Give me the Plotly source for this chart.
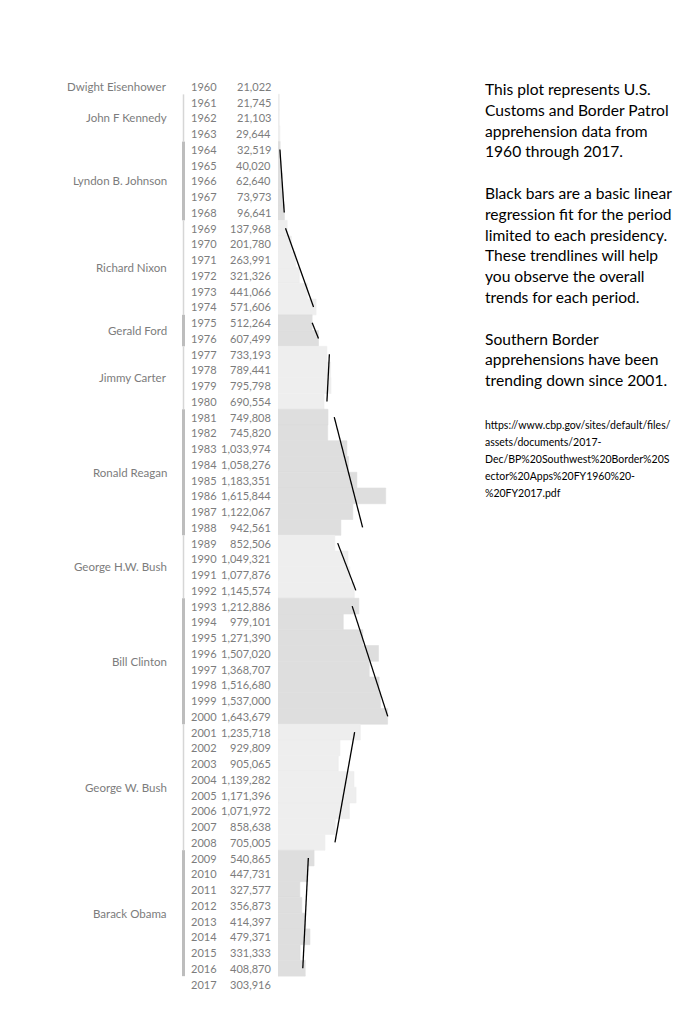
import numpy as np
import plotly.graph_objects as go

# apprehensions per fiscal year, 1960-2017
years = list(range(1960, 2018))
apprehensions = [
    21022, 21745, 21103, 29644, 32519, 40020, 62640, 73973, 96641, 137968,
    201780, 263991, 321326, 441066, 571606, 512264, 607499, 733193, 789441, 795798,
    690554, 749808, 745820, 1033974, 1058276, 1183351, 1615844, 1122067, 942561, 852506,
    1049321, 1077876, 1145574, 1212886, 979101, 1271390, 1507020, 1368707, 1516680, 1537000,
    1643679, 1235718, 929809, 905065, 1139282, 1171396, 1071972, 858638, 705005, 540865,
    447731, 327577, 356873, 414397, 479371, 331333, 408870, 303916,
]

presidents = ["Dwight Eisenhower", "John F Kennedy", "Lyndon B. Johnson", "Richard Nixon",
              "Gerald Ford", "Jimmy Carter", "Ronald Reagan", "George H.W. Bush",
              "Bill Clinton", "George W. Bush", "Barack Obama"]
term_start = [1960, 1961, 1964, 1969, 1975, 1977, 1981, 1989, 1993, 2001, 2009]
term_end = [1960, 1963, 1968, 1974, 1976, 1980, 1988, 1992, 2000, 2008, 2016]
has_bars = [False, True, True, True, True, True, True, True, True, True, True]
has_trend = [False, False, True, True, True, True, True, True, True, True, True]

notes = [
    "This plot represents U.S.",
    "Customs and Border Patrol",
    "apprehension data from",
    "1960 through 2017.",
    "",
    "Black bars are a basic linear",
    "regression fit for the period",
    "limited to each presidency.",
    "These trendlines will help",
    "you observe the overall",
    "trends for each period.",
    "",
    "Southern Border",
    "apprehensions have been",
    "trending down since 2001.",
]
source = [
    "https://www.cbp.gov/sites/default/files/",
    "assets/documents/2017-",
    "Dec/BP%20Southwest%20Border%20S",
    "ector%20Apps%20FY1960%20-",
    "%20FY2017.pdf",
]

LIGHT = "#eeeeee"
DARK = "#dedede"
LABEL = "#7c7c7c"
FONT = "Lato"
W, H = 685, 1024
PAD = 8  # the page body adds an 8px margin around the plot


def px(x):
    return (x - PAD) / W


def py(y):
    return 1 - (y - PAD) / H


fig = go.Figure()

for i, name in enumerate(presidents):
    if not has_bars[i]:
        continue
    yrs = [y for y in years if term_start[i] <= y <= term_end[i]]
    vals = [apprehensions[years.index(y)] for y in yrs]
    color = DARK if i % 2 == 0 else LIGHT
    fig.add_trace(go.Bar(
        x=vals, y=yrs, orientation="h", width=1,
        marker=dict(color=color, line=dict(width=0.6, color=color)),
        hoverinfo="x+y", showlegend=False,
    ))
    # bracket on the left of the year column
    dark = i % 2 == 0
    fig.add_shape(
        type="line", xref="paper", yref="y",
        x0=px(183.5), x1=px(183.5), y0=term_start[i] - 0.5, y1=term_end[i] + 0.5,
        line=dict(color="#bdbdbd" if dark else "#d6d6d6", width=3 if dark else 1.5),
    )

# linear fit per presidency
for i, name in enumerate(presidents):
    if not has_trend[i]:
        continue
    yrs = [y for y in years if term_start[i] <= y <= term_end[i]]
    vals = [apprehensions[years.index(y)] for y in yrs]
    slope, icpt = np.polyfit(yrs, vals, 1)
    ends = [yrs[0], yrs[-1]]
    fig.add_trace(go.Scatter(
        x=[slope * e + icpt for e in ends], y=ends, mode="lines",
        line=dict(color="black", width=1.3), hoverinfo="skip", showlegend=False,
    ))

annotations = []
for yr, v in zip(years, apprehensions):
    annotations.append(dict(x=px(189), xref="paper", y=yr, yref="y", text=str(yr),
                            xanchor="left", yanchor="middle", showarrow=False,
                            font=dict(size=11, color=LABEL, family=FONT)))
    annotations.append(dict(x=px(273), xref="paper", y=yr, yref="y", text=f"{v:,}",
                            xanchor="right", yanchor="middle", showarrow=False,
                            font=dict(size=11, color=LABEL, family=FONT)))

for i, name in enumerate(presidents):
    annotations.append(dict(x=px(169), xref="paper", y=(term_start[i] + term_end[i]) / 2, yref="y",
                            text=name, xanchor="right", yanchor="middle", showarrow=False,
                            font=dict(size=11.5, color=LABEL, family=FONT)))

for k, line in enumerate(notes):
    if line:
        annotations.append(dict(x=px(483), xref="paper", y=py(89 + k * 20.8), yref="paper",
                                text=line, xanchor="left", yanchor="middle", showarrow=False,
                                font=dict(size=15.6, color="black", family=FONT)))

for k, line in enumerate(source):
    annotations.append(dict(x=px(483), xref="paper", y=py(425 + k * 17), yref="paper",
                            text=line, xanchor="left", yanchor="middle", showarrow=False,
                            font=dict(size=10.5, color="black", family=FONT)))

row = 15.746
top_px = 86.5 - PAD
fig.update_layout(
    width=W, height=H,
    margin=dict(l=0, r=0, t=0, b=0),
    paper_bgcolor="white", plot_bgcolor="white",
    barmode="overlay",
    xaxis=dict(domain=[px(278), px(478)], range=[0, 3.0e6], visible=False, fixedrange=True),
    yaxis=dict(range=[1960 + (H - top_px) / row, 1960 - top_px / row],
               visible=False, fixedrange=True),
    annotations=annotations,
)

fig.write_html("out.html")
